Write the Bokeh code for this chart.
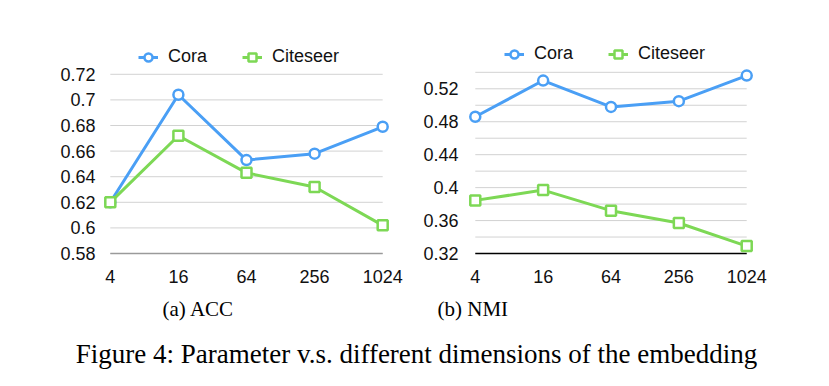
from bokeh.plotting import figure
from bokeh.layouts import column, row
from bokeh.models import Legend, LegendItem, Title, Div, FixedTicker, Range1d
from bokeh.embed import file_html
from bokeh.resources import INLINE

dims = ["4", "16", "64", "256", "1024"]
acc_cora = [0.620, 0.704, 0.653, 0.658, 0.679]
acc_citeseer = [0.620, 0.672, 0.643, 0.632, 0.602]
nmi_cora = [0.486, 0.530, 0.498, 0.505, 0.536]
nmi_citeseer = [0.3845, 0.397, 0.372, 0.357, 0.329]
acc_ticks = [0.58, 0.60, 0.62, 0.64, 0.66, 0.68, 0.70, 0.72]
acc_tick_labels = ["0.58", "0.6", "0.62", "0.64", "0.66", "0.68", "0.7", "0.72"]
nmi_grid = [0.32, 0.34, 0.36, 0.38, 0.40, 0.42, 0.44, 0.46, 0.48, 0.50, 0.52, 0.54]
nmi_ticks = [0.32, 0.36, 0.40, 0.44, 0.48, 0.52]
nmi_tick_labels = ["0.32", "0.36", "0.4", "0.44", "0.48", "0.52"]

BLUE = "#4a9ff5"
GREEN = "#7dd855"
SANS = "Liberation Sans"
SERIF = "Liberation Serif"
xs = list(range(len(dims)))
PAD = 0.1
H = 330
FRAME_TOP = 30
FRAME_BOTTOM = 256


def make(cora, cite, grid, ticks, labels, axis_color, data_top_px, bl, br, fw, ystand,
         legend_xy, caption, cap_off):
    lo, hi = grid[0], grid[-1]
    per_px = (hi - lo) / (254 - data_top_px)
    yr = (lo - (FRAME_BOTTOM - 254) * per_px, hi + (data_top_px - FRAME_TOP) * per_px)
    p = figure(width=bl + fw + br, height=H, output_backend="svg", toolbar_location=None,
               x_range=Range1d(xs[0] - PAD, xs[-1] + PAD), y_range=Range1d(*yr),
               min_border_left=bl, min_border_right=br, min_border_top=FRAME_TOP,
               min_border_bottom=H - FRAME_BOTTOM)
    p.outline_line_color = None
    p.background_fill_color = "white"
    p.border_fill_color = "white"
    p.xgrid.visible = False
    p.ygrid.visible = False
    n = len(grid)
    p.segment(x0=[xs[0]] * n, x1=[xs[-1]] * n, y0=grid, y1=grid, line_color="#d2d2d2", line_width=1)
    p.segment(x0=[xs[0]], x1=[xs[-1]], y0=[lo], y1=[lo], line_color=axis_color, line_width=1.5)
    p.xaxis.ticker = FixedTicker(ticks=xs)
    p.xaxis.major_label_overrides = {i: d for i, d in zip(xs, dims)}
    p.yaxis.ticker = FixedTicker(ticks=ticks)
    p.yaxis.major_label_overrides = {t: l for t, l in zip(ticks, labels)}
    for ax in (p.xaxis, p.yaxis):
        ax.major_tick_line_color = None
        ax.minor_tick_line_color = None
        ax.major_tick_out = 0
        ax.axis_line_color = None
        ax.major_label_text_font = SANS
        ax.major_label_text_font_size = "18px"
        ax.major_label_text_color = "#111111"
    p.yaxis.major_label_standoff = ystand
    p.xaxis.major_label_standoff = 14

    l1 = p.line(xs, cora, line_color=BLUE, line_width=3)
    m1 = p.scatter(xs, cora, marker="circle", size=10, line_color=BLUE, line_width=2.5, fill_color="white")
    l2 = p.line(xs, cite, line_color=GREEN, line_width=3)
    m2 = p.scatter(xs, cite, marker="square", size=10, line_color=GREEN, line_width=2.5, fill_color="white")

    leg = Legend(items=[LegendItem(label="Cora", renderers=[l1, m1]),
                        LegendItem(label="Citeseer", renderers=[l2, m2])],
                 orientation="horizontal", location=legend_xy,
                 label_text_font=SANS, label_text_font_size="18px", label_text_color="#111111",
                 glyph_width=20, glyph_height=20, label_standoff=10, spacing=35,
                 padding=0, margin=0, border_line_color=None, background_fill_alpha=0)
    p.add_layout(leg, "center")
    t = Title(text=caption, text_font=SERIF, text_font_size="21px", text_font_style="normal",
              text_color="black", align="left", offset=cap_off, standoff=19)
    p.add_layout(t, "below")
    return p


pa = make(acc_cora, acc_citeseer, acc_ticks, acc_ticks, acc_tick_labels, "#9a9a9a", 74,
          103, 31, 286, 8, (35, 188), "(a) ACC", 59)
pb = make(nmi_cora, nmi_citeseer, nmi_grid, nmi_ticks, nmi_tick_labels, "#000000", 72,
          48, 70, 285, 10, (36, 191), "(b) NMI", -31)

cap = Div(text="Figure 4: Parameter v.s. different dimensions of the embedding",
          width=823, height=50,
          styles={"font-family": SERIF, "font-size": "27px", "color": "black",
                  "text-align": "center", "width": "823px", "padding-top": "0px",
                  "white-space": "nowrap"})

layout = column(row(pa, pb, spacing=0), cap, spacing=0)
open("out.html", "w").write(file_html(layout, INLINE))
